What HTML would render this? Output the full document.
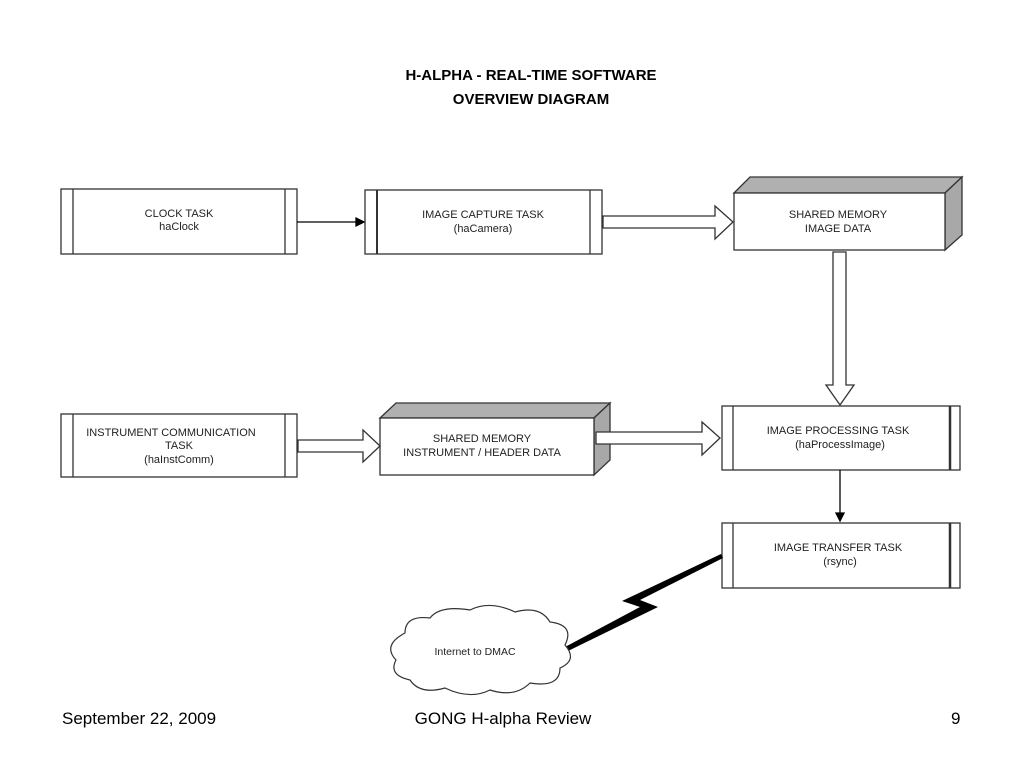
<!DOCTYPE html>
<html><head><meta charset="utf-8"><style>
html,body{margin:0;padding:0;background:#fff;width:1024px;height:768px;overflow:hidden}
svg{display:block}
</style></head><body>
<svg width="1024" height="768" viewBox="0 0 1024 768" xmlns="http://www.w3.org/2000/svg" font-family="Liberation Sans, sans-serif">
<g font-weight="bold" font-size="15" text-anchor="middle" fill="#000">
<text x="531" y="80">H-ALPHA - REAL-TIME SOFTWARE</text>
<text x="531" y="104">OVERVIEW DIAGRAM</text>
</g>
<g stroke="#333" stroke-width="1.3" fill="#fff">
<rect x="61" y="189" width="236" height="65"/>
<line x1="73" y1="189" x2="73" y2="254"/><line x1="285" y1="189" x2="285" y2="254"/>
<rect x="365" y="190" width="237" height="64"/>
<line x1="377" y1="190" x2="377" y2="254" stroke-width="2"/><line x1="590" y1="190" x2="590" y2="254"/>
<rect x="61" y="414" width="236" height="63"/>
<line x1="73" y1="414" x2="73" y2="477"/><line x1="285" y1="414" x2="285" y2="477"/>
<rect x="722" y="406" width="238" height="64"/>
<line x1="733" y1="406" x2="733" y2="470"/><line x1="950" y1="406" x2="950" y2="470" stroke-width="2.5"/>
<rect x="722" y="523" width="238" height="65"/>
<line x1="733" y1="523" x2="733" y2="588"/><line x1="950" y1="523" x2="950" y2="588" stroke-width="2.5"/>
<polygon points="734,193 750,177 962,177 945,193" fill="#b0b0b0"/>
<polygon points="945,193 962,177 962,235 945,250" fill="#a8a8a8"/>
<rect x="734" y="193" width="211" height="57"/>
<polygon points="380,418 396,403 610,403 594,418" fill="#b0b0b0"/>
<polygon points="594,418 610,403 610,460 594,475" fill="#a8a8a8"/>
<rect x="380" y="418" width="214" height="57"/>
<polygon points="603,216 715,216 715,206 733,222 715,239 715,228 603,228"/>
<polygon points="298,440 363,440 363,430 380,446 363,462 363,452 298,452"/>
<polygon points="596,432 702,432 702,422 720,438 702,455 702,444 596,444"/>
<polygon points="833,252 846,252 846,385 854,385 840,405 826,385 833,385"/>
</g>
<g stroke="#000" stroke-width="1.3" fill="#000">
<line x1="297" y1="222" x2="358" y2="222"/><polygon points="364,222 356,218 356,226"/>
<line x1="840" y1="470" x2="840" y2="515"/><polygon points="840,521 836,513 844,513"/>
</g>
<!-- lightning -->
<polygon points="721,554 723,558 640,600 658,607 568,651 565,647 640,607 622,601" fill="#000"/>
<!-- cloud -->
<path d="M405,633 Q405,615 430,618 Q440,605 470,610 Q490,600 515,612 Q540,605 550,622 Q575,625 565,645 Q578,660 560,668 Q560,688 530,683 Q515,698 490,690 Q470,700 445,688 Q420,695 410,680 Q388,675 396,660 Q382,645 405,633 Z" fill="#fff" stroke="#333" stroke-width="1.2"/>
<g font-size="11" text-anchor="middle" fill="#222">
<text x="179" y="217">CLOCK TASK</text><text x="179" y="230">haClock</text>
<text x="483" y="218">IMAGE CAPTURE TASK</text><text x="483" y="232">(haCamera)</text>
<text x="838" y="218">SHARED MEMORY</text><text x="838" y="232">IMAGE DATA</text>
<text x="171" y="436">INSTRUMENT COMMUNICATION</text><text x="179" y="449">TASK</text><text x="179" y="463">(haInstComm)</text>
<text x="482" y="442">SHARED MEMORY</text><text x="482" y="456">INSTRUMENT / HEADER DATA</text>
<text x="838" y="434">IMAGE PROCESSING TASK</text><text x="840" y="448">(haProcessImage)</text>
<text x="838" y="551">IMAGE TRANSFER TASK</text><text x="840" y="565">(rsync)</text>
<text x="475" y="655" font-size="10.5">Internet to DMAC</text>
</g>
<g font-size="17" fill="#000">
<text x="62" y="724">September 22, 2009</text>
<text x="503" y="724" text-anchor="middle">GONG H-alpha Review</text>
<text x="951" y="724">9</text>
</g>
</svg>
</body></html>
